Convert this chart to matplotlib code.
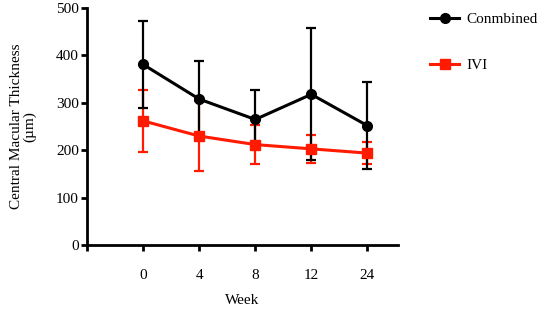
import matplotlib
matplotlib.use("Agg")
import matplotlib.pyplot as plt
from matplotlib.lines import Line2D
import numpy as np

weeks = ["0", "4", "8", "12", "24"]
combined_mean = [381, 308, 265, 318, 252]
combined_sd = [91, 80, 62, 139, 92]
ivi_mean = [262, 230, 212, 203, 194]
ivi_sd = [65, 73, 41, 30, 24]

plt.rcParams["font.family"] = ["Liberation Serif", "DejaVu Serif"]
plt.rcParams["font.size"] = 11

fig = plt.figure(figsize=(5.41, 3.11), dpi=100)
ax = fig.add_axes([0.161, 0.212, 0.575, 0.762])

x = np.arange(len(weeks))
red = "#ff1a00"
ax.errorbar(x, ivi_mean, yerr=ivi_sd, color=red, marker="s", markersize=6.5,
            linewidth=2.2, elinewidth=1.6, capsize=3.6, capthick=1.6)
ax.errorbar(x, combined_mean, yerr=combined_sd, color="black", marker="o", markersize=7,
            linewidth=2.2, elinewidth=1.6, capsize=3.6, capthick=1.6)

ax.set_xlim(-1, 4.55)
ax.set_ylim(0, 500)
ax.set_xticks([-1] + list(x))
ax.set_xticklabels([""] + weeks)
ax.set_yticks([0, 100, 200, 300, 400, 500])
for s in ["top", "right"]:
    ax.spines[s].set_visible(False)
for s in ["left", "bottom"]:
    ax.spines[s].set_linewidth(2)
ax.tick_params(width=2, length=4, pad=2)
ax.tick_params(axis="x", pad=13)
ax.set_xlabel("Week", labelpad=9)
ax.set_ylabel("Central Macular Thickness\n(µm)", labelpad=14, linespacing=0.95)

handles = [Line2D([], [], color="black", marker="o", markersize=7, linewidth=2.2),
           Line2D([], [], color=red, marker="s", markersize=6.5, linewidth=2.2)]
fig.legend(handles, ["Conmbined", "IVI"], loc="upper left", bbox_to_anchor=(0.77, 1.005),
           frameon=False, labelspacing=2.15, handlelength=1.9, handletextpad=0.45)

fig.savefig("out.png", dpi=100)
